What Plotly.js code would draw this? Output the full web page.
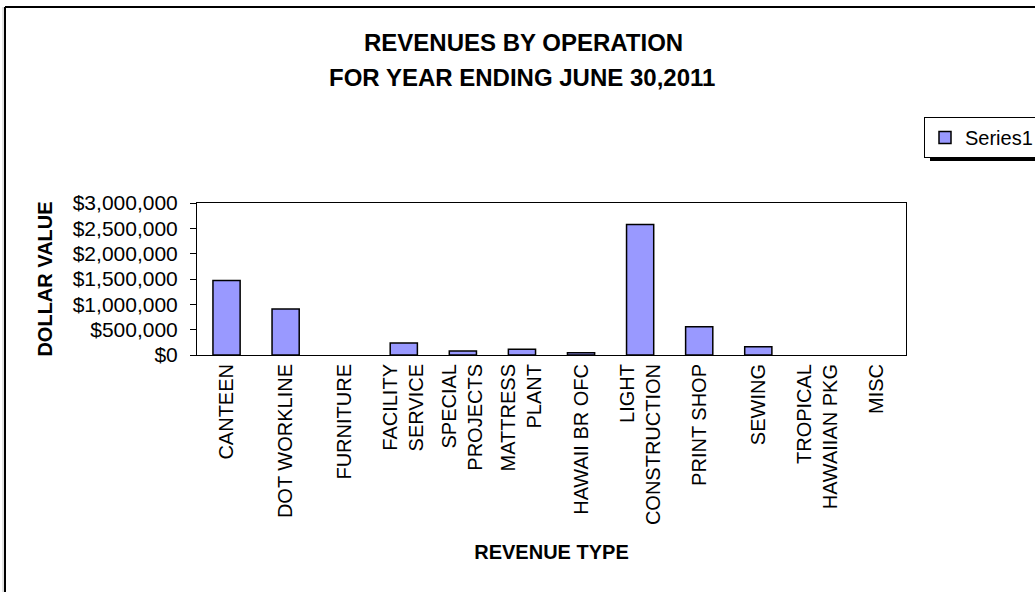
<!DOCTYPE html>
<html>
<head>
<meta charset="utf-8">
<script src="https://cdn.plot.ly/plotly-3.0.1.min.js"></script>
<style>
html,body{margin:0;padding:0;background:#fff;}
#chart{width:1035px;height:592px;}
</style>
</head>
<body>
<div id="chart"></div>
<script>
// Data
const categories = ["CANTEEN","DOT WORKLINE","FURNITURE","FACILITY<br>SERVICE","SPECIAL<br>PROJECTS","MATTRESS<br>PLANT","HAWAII BR OFC","LIGHT<br>CONSTRUCTION","PRINT SHOP","SEWING","TROPICAL<br>HAWAIIAN PKG","MISC"];
const revenues = [1470000, 910000, 0, 235000, 78000, 115000, 45000, 2575000, 560000, 162000, 0, 0];
const seriesName = "Series1";
const yTickVals = [0, 500000, 1000000, 1500000, 2000000, 2500000, 3000000];
const titleLine1 = "REVENUES BY OPERATION";
const titleLine2 = "FOR YEAR ENDING JUNE 30,2011";
const xTitle = "REVENUE TYPE";
const yTitle = "DOLLAR VALUE";

// pixel geometry helpers
const W = 1035, H = 592, L = 197, R = 906, T = 203, B = 355;
const px = x => (x - L) / (R - L);
const py = y => (B - y) / (B - T);
const FONT = "Arial, 'Liberation Sans', sans-serif";

const trace = {
  type: "bar",
  x: categories,
  y: revenues,
  name: seriesName,
  marker: {color: "#9999FF", line: {color: "#000000", width: revenues.map(v => v > 0 ? 1.5 : 0)}},
  showlegend: true,
  hoverinfo: "x+y"
};

const layout = {
  width: W, height: H,
  margin: {l: L, r: W - R, t: T, b: H - B, pad: 0, autoexpand: false},
  paper_bgcolor: "#ffffff",
  plot_bgcolor: "#ffffff",
  font: {family: FONT, color: "#000000"},
  bargap: 0.54,
  showlegend: true,
  legend: {
    x: px(924), xanchor: "left", y: py(117), yanchor: "top",
    bgcolor: "#ffffff", bordercolor: "#000000", borderwidth: 1,
    font: {family: FONT, size: 20, color: "#000000"}
  },
  xaxis: {
    type: "category",
    tickangle: -90,
    tickfont: {family: FONT, size: 20, color: "#000000"},
    showline: true, linecolor: "#000000", linewidth: 1, mirror: true,
    ticks: "", showgrid: false, zeroline: false,
    title: {text: "<b>" + xTitle + "</b>", font: {family: FONT, size: 20, color: "#000000"}, standoff: 20},
    fixedrange: true
  },
  yaxis: {
    range: [0, 3000000],
    tickvals: yTickVals,
    tickformat: "$,.0f",
    tickfont: {family: FONT, size: 21, color: "#000000"},
    ticks: "outside", ticklen: 6, tickcolor: "#000000",
    ticklabelstandoff: 8,
    showline: true, linecolor: "#000000", linewidth: 1, mirror: true,
    showgrid: false, zeroline: false,
    title: {text: "<b>" + yTitle + "</b>", font: {family: FONT, size: 20, color: "#000000"}, standoff: 14},
    fixedrange: true
  },
  annotations: [
    {text: "<b>" + titleLine1 + "</b>", xref: "paper", yref: "paper", x: px(523), y: py(43),
     xanchor: "center", yanchor: "middle", showarrow: false, font: {family: FONT, size: 24, color: "#000000"}},
    {text: "<b>" + titleLine2 + "</b>", xref: "paper", yref: "paper", x: px(522), y: py(78),
     xanchor: "center", yanchor: "middle", showarrow: false, font: {family: FONT, size: 24, color: "#000000"}}
  ],
  shapes: [
    // chart frame (top and left visible)
    {type: "line", xref: "paper", yref: "paper", x0: px(5), x1: px(1040), y0: py(7), y1: py(7), line: {color: "#000000", width: 2}},
    {type: "line", xref: "paper", yref: "paper", x0: px(5), x1: px(5), y0: py(7), y1: py(600), line: {color: "#000000", width: 2}},
    {type: "line", xref: "paper", yref: "paper", x0: px(3), x1: px(3), y0: py(7), y1: py(600), line: {color: "#c8c8c8", width: 1}},
    // legend shadow
    {type: "rect", xref: "paper", yref: "paper", x0: px(930), x1: px(1040), y0: py(161), y1: py(145), fillcolor: "#000000", line: {width: 0}, layer: "above"}
  ]
};

Plotly.newPlot("chart", [trace], layout, {staticPlot: true, displayModeBar: false});
</script>
</body>
</html>
